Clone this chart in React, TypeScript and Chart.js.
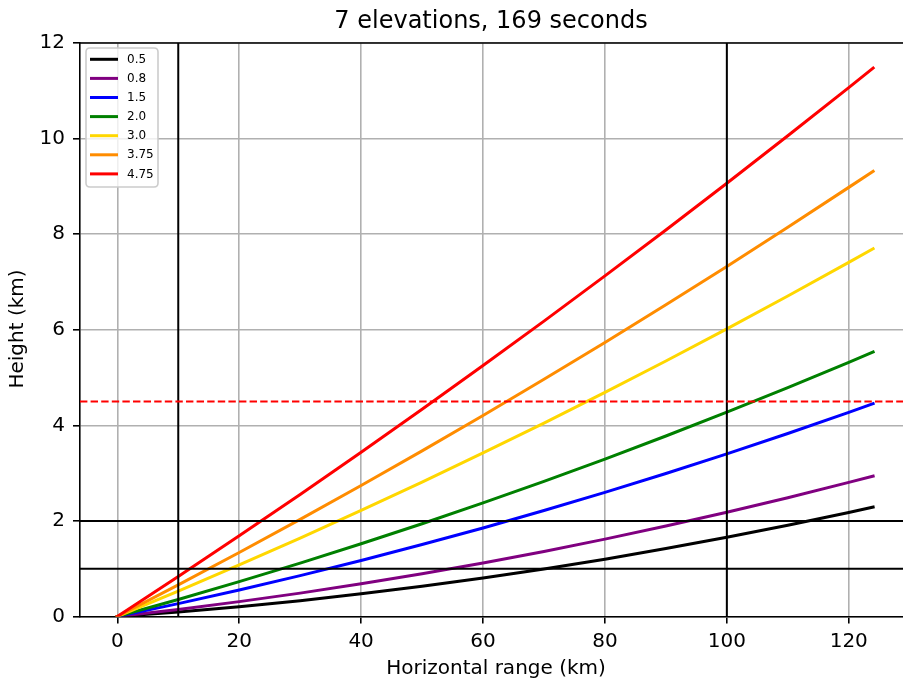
import { useEffect, useRef } from 'react';
import { Chart, registerables } from 'chart.js';
Chart.register(...registerables);

// Horizontal range (km) at which the beam heights were read
const ranges = [0, 10, 20, 30, 40, 50, 60, 70, 80, 90, 100, 110, 120, 124];

// Beam heights (km) for each elevation angle
const h05 = [0, 0.095, 0.206, 0.332, 0.475, 0.633, 0.806, 0.995, 1.2, 1.421, 1.657, 1.91, 2.177, 2.289];
const h08 = [0, 0.147, 0.311, 0.489, 0.684, 0.894, 1.12, 1.362, 1.619, 1.892, 2.181, 2.485, 2.806, 2.938];
const h15 = [0, 0.27, 0.555, 0.856, 1.173, 1.505, 1.853, 2.217, 2.596, 2.992, 3.403, 3.829, 4.271, 4.453];
const h20 = [0, 0.357, 0.729, 1.118, 1.522, 1.941, 2.376, 2.828, 3.294, 3.777, 4.275, 4.789, 5.318, 5.534];
const h30 = [0, 0.531, 1.078, 1.641, 2.219, 2.813, 3.423, 4.048, 4.689, 5.346, 6.018, 6.707, 7.41, 7.696];
const h375 = [0, 0.662, 1.34, 2.033, 2.742, 3.466, 4.207, 4.963, 5.735, 6.522, 7.325, 8.144, 8.979, 9.317];
const h475 = [0, 0.836, 1.688, 2.555, 3.438, 4.337, 5.251, 6.181, 7.127, 8.088, 9.066, 10.059, 11.067, 11.475];

const elevationLabels = ['0.5', '0.8', '1.5', '2.0', '3.0', '3.75', '4.75'];
const elevationHeights = [h05, h08, h15, h20, h30, h375, h475];
const elevationColors = ['#000000', '#800080', '#0000ff', '#008000', '#ffd700', '#ff8c00', '#ff0000'];

const xTicks = [0, 20, 40, 60, 80, 100, 120];
const yTicks = [0, 2, 4, 6, 8, 10, 12];
const X_MIN = -6.12;
const X_MAX = 128.9;
const Y_MIN = 0;
const Y_MAX = 12;

const verticalRefs = [10, 100];
const horizontalRefs = [1, 2];
const thresholdHeight = 4.5;

const titleText = '7 elevations, 169 seconds';
const xLabel = 'Horizontal range (km)';
const yLabel = 'Height (km)';

const FONT = '"DejaVu Sans", sans-serif';

const decorPlugin = {
  id: 'decor',
  afterDraw(chart: any) {
    const { ctx, chartArea } = chart;
    ctx.save();
    // top spine
    ctx.strokeStyle = '#000';
    ctx.lineWidth = 1.6;
    ctx.beginPath();
    ctx.moveTo(chartArea.left - 0.8, chartArea.top);
    ctx.lineTo(chartArea.right, chartArea.top);
    ctx.stroke();

    ctx.fillStyle = '#000';
    // title
    ctx.font = `24px ${FONT}`;
    ctx.textAlign = 'center';
    ctx.textBaseline = 'alphabetic';
    ctx.fillText(titleText, 491, 28);
    // x label
    ctx.font = `20px ${FONT}`;
    ctx.fillText(xLabel, 496, 674);
    // y label
    ctx.save();
    ctx.translate(23, 329);
    ctx.rotate(-Math.PI / 2);
    ctx.fillText(yLabel, 0, 0);
    ctx.restore();

    // legend
    const lx = 86, ly = 48, lw = 72, lh = 139, r = 4;
    ctx.beginPath();
    ctx.moveTo(lx + r, ly);
    ctx.lineTo(lx + lw - r, ly);
    ctx.quadraticCurveTo(lx + lw, ly, lx + lw, ly + r);
    ctx.lineTo(lx + lw, ly + lh - r);
    ctx.quadraticCurveTo(lx + lw, ly + lh, lx + lw - r, ly + lh);
    ctx.lineTo(lx + r, ly + lh);
    ctx.quadraticCurveTo(lx, ly + lh, lx, ly + lh - r);
    ctx.lineTo(lx, ly + r);
    ctx.quadraticCurveTo(lx, ly, lx + r, ly);
    ctx.closePath();
    ctx.fillStyle = 'rgba(255,255,255,0.8)';
    ctx.fill();
    ctx.strokeStyle = '#cccccc';
    ctx.lineWidth = 1.6;
    ctx.stroke();

    ctx.font = `12px ${FONT}`;
    ctx.textAlign = 'left';
    ctx.textBaseline = 'middle';
    elevationLabels.forEach((lab, i) => {
      const y = 59.3 + i * 19.1;
      ctx.strokeStyle = elevationColors[i];
      ctx.lineWidth = 3;
      ctx.beginPath();
      ctx.moveTo(90, y);
      ctx.lineTo(118, y);
      ctx.stroke();
      ctx.fillStyle = '#000';
      ctx.fillText(lab, 127, y + 0.5);
    });
    ctx.restore();
  },
};

export default function App() {
  const ref = useRef<HTMLCanvasElement>(null);
  useEffect(() => {
    document.body.style.margin = '0';
    const canvas = ref.current!;
    const curveSets = elevationLabels.map((lab, i) => ({
      label: lab,
      data: ranges.map((x, j) => ({ x, y: elevationHeights[i][j] })),
      borderColor: elevationColors[i],
      backgroundColor: elevationColors[i],
      borderWidth: 3,
      borderCapStyle: 'square',
      borderJoinStyle: 'round',
      pointRadius: 0,
      tension: 0,
      fill: false,
      order: 10 - i,
    }));
    const refSets: any[] = [];
    verticalRefs.forEach((v) => {
      refSets.push({
        label: 'v' + v,
        data: [{ x: v, y: Y_MIN }, { x: v, y: Y_MAX }],
        borderColor: '#000',
        borderWidth: 2,
        pointRadius: 0,
        fill: false,
        order: -5,
      });
    });
    horizontalRefs.forEach((h) => {
      refSets.push({
        label: 'h' + h,
        data: [{ x: X_MIN, y: h }, { x: X_MAX, y: h }],
        borderColor: '#000',
        borderWidth: 2,
        pointRadius: 0,
        fill: false,
        order: -5,
      });
    });
    refSets.push({
      label: 'threshold',
      data: [{ x: X_MIN, y: thresholdHeight }, { x: X_MAX, y: thresholdHeight }],
      borderColor: '#ff0000',
      borderWidth: 2,
      borderDash: [7.4, 3.2],
      pointRadius: 0,
      fill: false,
      order: -6,
    });

    const chart = new Chart(canvas, {
      type: 'line',
      data: { datasets: [...curveSets, ...refSets] as any },
      options: {
        responsive: false,
        animation: false,
        devicePixelRatio: 1,
        parsing: false as any,
        layout: { padding: { top: 43, left: 0, right: 0, bottom: 0 } },
        plugins: {
          legend: { display: false },
          title: { display: false },
          tooltip: { enabled: false },
        },
        scales: {
          x: {
            type: 'linear',
            min: X_MIN,
            max: X_MAX,
            afterBuildTicks: (s: any) => {
              s.ticks = xTicks.map((v) => ({ value: v }));
            },
            afterFit: (s: any) => {
              s.height = 64.5;
            },
            grid: {
              color: '#b0b0b0',
              lineWidth: 1.6,
              tickColor: '#000',
              tickWidth: 1.6,
              tickLength: 7,
              drawTicks: true,
            },
            border: { display: true, color: '#000', width: 1.6 },
            ticks: {
              color: '#000',
              font: { family: FONT, size: 20 },
              padding: 6,
              maxRotation: 0,
              autoSkip: false,
              callback: (v: any) => String(v),
            },
          },
          y: {
            type: 'linear',
            min: Y_MIN,
            max: Y_MAX,
            afterBuildTicks: (s: any) => {
              s.ticks = yTicks.map((v) => ({ value: v }));
            },
            afterFit: (s: any) => {
              s.width = 80;
            },
            grid: {
              color: '#b0b0b0',
              lineWidth: 1.6,
              tickColor: '#000',
              tickWidth: 1.6,
              tickLength: 7,
              drawTicks: true,
            },
            border: { display: true, color: '#000', width: 1.6 },
            ticks: {
              color: '#000',
              font: { family: FONT, size: 20 },
              padding: 8,
              autoSkip: false,
              callback: (v: any) => String(v),
            },
          },
        },
      },
      plugins: [decorPlugin],
    });
    return () => chart.destroy();
  }, []);
  return (
    <canvas
      ref={ref}
      width={903}
      height={681}
      style={{ display: 'block', width: '903px', height: '681px' }}
    />
  );
}
